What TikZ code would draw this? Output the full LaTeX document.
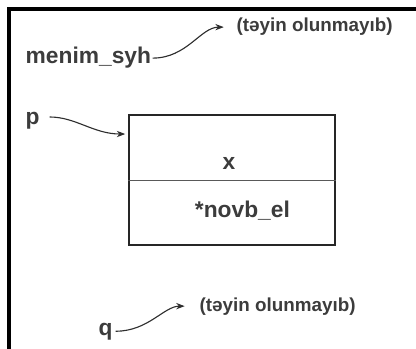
\documentclass[tikz,border=0pt]{standalone}
\usepackage{fontspec}
\setmainfont{Liberation Sans}
\usetikzlibrary{arrows.meta}
\definecolor{inkgray}{HTML}{3C3C3C}
\definecolor{wiregray}{HTML}{2E2E2E}
\begin{document}
\begin{tikzpicture}[
  bigname/.style={font=\bfseries\fontsize{16.2}{19}\selectfont,text=inkgray,inner sep=1pt},
  smallnote/.style={font=\bfseries\fontsize{13.4}{16}\selectfont,text=inkgray,inner sep=1pt},
  pointer/.style={draw=wiregray,line width=0.8pt,-{Stealth[length=6pt,width=4.5pt]},out=0,in=180},
  cell/.style={draw=black!85,line width=1.4pt,minimum width=5.15cm,minimum height=3.25cm,inner sep=0pt}
]
  \useasboundingbox (0,0) rectangle (10.4,-8.725);
  \draw[line width=2.5pt] (10.4,-0.225) -- (0.225,-0.225) -- (0.225,-8.725);

  \node[bigname,anchor=base west] (menim) at (0.6,-1.6) {menim\_syh};
  \node[smallnote,anchor=base west] (bosh1) at (5.875,-0.8) {(təyin olunmayıb)};
  \draw[pointer,shorten >=8pt] (menim.east) to (bosh1.west);

  \node[cell] (box) at (5.8,-4.5) {};
  \draw[line width=0.7pt,draw=black!65] (box.west) -- (box.east);
  \node[bigname,anchor=base] (fx) at (5.725,-4.25) {x};
  \node[bigname,anchor=base] (fnext) at (6.06,-5.425) {*novb\_el};

  \node[bigname,anchor=base west] (p) at (0.6,-3.125) {p};
  \draw[pointer,shorten <=6pt,shorten >=2pt] ([yshift=3pt]p.east) to ([yshift=-0.5cm]box.north west);

  \node[bigname,anchor=base west] (q) at (2.425,-8.375) {q};
  \node[smallnote,anchor=base west] (bosh2) at (4.95,-7.775) {(təyin olunmayıb)};
  \draw[pointer,shorten <=1pt,shorten >=9.5pt] (q.east) to (bosh2.west);
\end{tikzpicture}
\end{document}
